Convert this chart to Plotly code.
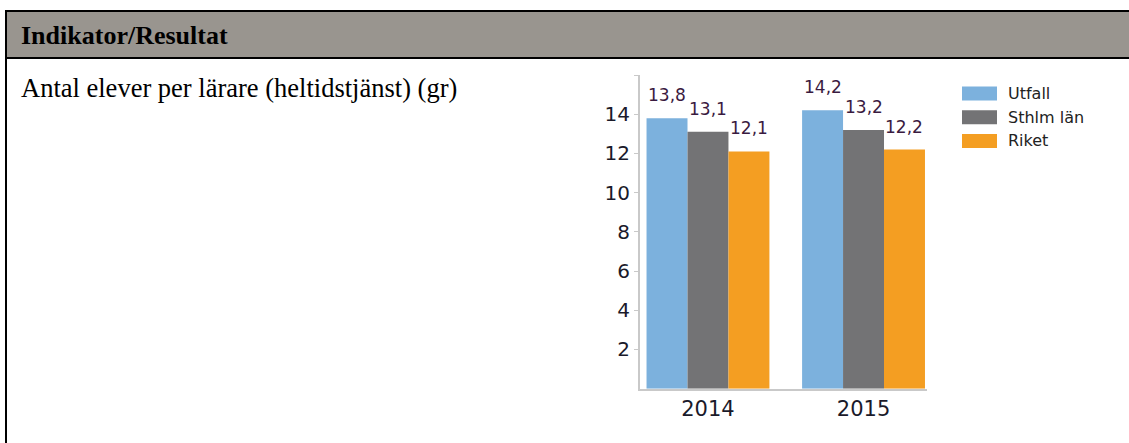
"""Antal elever per lärare – grouped bars inside a report table cell."""

import plotly.graph_objects as go

W, H = 1129, 443

HEADER_TEXT = "Indikator/Resultat"
ROW_TEXT = "Antal elever per lärare (heltidstjänst) (gr)"

YEARS = ["2014", "2015"]
SERIES = ["Utfall", "Sthlm län", "Riket"]
VALUES = {
    "Utfall": [13.8, 14.2],
    "Sthlm län": [13.1, 13.2],
    "Riket": [12.1, 12.2],
}
COLORS = {
    "Utfall": "#7cb1dd",
    "Sthlm län": "#737375",
    "Riket": "#f49e22",
}
Y_TICKS = [2, 4, 6, 8, 10, 12, 14, 16]
Y_TICK_LABELS = ["2", "4", "6", "8", "10", "12", "14", ""]

AXIS_GREY = "#c9c9c9"
HEADER_GREY = "#99958f"

# plot area in pixels (margins are zero, so paper == page)
X0, X1 = 640, 927
Y_TOP, Y_BOT = 75, 388.7
X_RANGE = [-0.437, 1.408]
BARGAP = 0.21


def px(x):
    return x / W


def py(y):
    return 1 - y / H


fig = go.Figure()
for name in SERIES:
    fig.add_trace(
        go.Bar(
            x=YEARS,
            y=VALUES[name],
            name=name,
            marker={"color": COLORS[name], "line": {"width": 0}},
            showlegend=False,
            hovertemplate="%{x} " + name + ": %{y}<extra></extra>",
        )
    )

# value labels above each bar (x given as category index)
unit_px = (X1 - X0) / (X_RANGE[1] - X_RANGE[0])
bar_px = (1 - BARGAP) * unit_px / len(SERIES)
for i, name in enumerate(SERIES):
    for j, v in enumerate(VALUES[name]):
        fig.add_annotation(
            x=j,
            y=v,
            xref="x",
            yref="y",
            text=f"{v:.1f}".replace(".", ","),
            showarrow=False,
            xshift=(i - 1) * bar_px,
            yanchor="bottom",
            yshift=11,
            font={"family": "DejaVu Sans", "size": 17, "color": "#3a1a40"},
        )

# hand-drawn legend (wide swatches like the original)
LEG_X, LEG_Y, LEG_STEP = 962, 93.5, 23.7
for i, name in enumerate(SERIES):
    yc = LEG_Y + i * LEG_STEP
    fig.add_shape(
        type="rect",
        xref="paper",
        yref="paper",
        x0=px(LEG_X),
        x1=px(LEG_X + 35),
        y0=py(yc - 7),
        y1=py(yc + 7),
        fillcolor=COLORS[name],
        line={"width": 0},
    )
    fig.add_annotation(
        x=px(LEG_X + 44),
        y=py(yc),
        xref="paper",
        yref="paper",
        text=name,
        showarrow=False,
        xanchor="left",
        yanchor="middle",
        font={"family": "DejaVu Sans", "size": 16, "color": "#222222"},
    )

# table frame
fig.add_shape(
    type="rect", xref="paper", yref="paper",
    x0=px(6), x1=px(W + 5), y0=py(58), y1=py(11),
    fillcolor=HEADER_GREY, line={"width": 0}, layer="below",
)
for x0, y0, x1, y1 in [(5, 11, W + 5, 11), (5, 58, W + 5, 58), (6, 10, 6, H + 5)]:
    fig.add_shape(
        type="line", xref="paper", yref="paper",
        x0=px(x0), y0=py(y0), x1=px(x1), y1=py(y1),
        line={"color": "#000000", "width": 2},
    )

fig.add_annotation(
    x=px(19), y=py(35), xref="paper", yref="paper",
    text=f"<b>{HEADER_TEXT}</b>", showarrow=False,
    xanchor="left", yanchor="middle",
    font={"family": "Liberation Serif", "size": 26, "color": "#000000"},
)
fig.add_annotation(
    x=px(19), y=py(88), xref="paper", yref="paper",
    text=ROW_TEXT, showarrow=False,
    xanchor="left", yanchor="middle",
    font={"family": "Liberation Serif", "size": 26.5, "color": "#000000"},
)

fig.update_layout(
    width=W,
    height=H,
    margin={"l": 0, "r": 0, "t": 0, "b": 0},
    paper_bgcolor="white",
    plot_bgcolor="white",
    barmode="group",
    bargap=BARGAP,
    bargroupgap=0,
    showlegend=False,
    xaxis={
        "domain": [px(X0), px(X1)],
        "type": "category",
        "range": X_RANGE,
        "showline": True,
        "linecolor": AXIS_GREY,
        "linewidth": 2,
        "ticks": "",
        "showgrid": False,
        "tickfont": {"family": "DejaVu Sans", "size": 21, "color": "#1a1a2a"},
    },
    yaxis={
        "domain": [py(Y_BOT), py(Y_TOP)],
        "range": [0, 16],
        "tickvals": Y_TICKS,
        "ticktext": Y_TICK_LABELS,
        "showline": True,
        "linecolor": AXIS_GREY,
        "linewidth": 2,
        "ticks": "outside",
        "ticklen": 4,
        "tickcolor": AXIS_GREY,
        "showgrid": False,
        "zeroline": False,
        "tickfont": {"family": "DejaVu Sans", "size": 20, "color": "#1a1a2a"},
    },
)

# page body has an 8px default margin; drop it so the figure sits at (0, 0)
fig.write_html(
    "out.html",
    config={"displayModeBar": False},
    post_script="document.body.style.margin='0';",
)
